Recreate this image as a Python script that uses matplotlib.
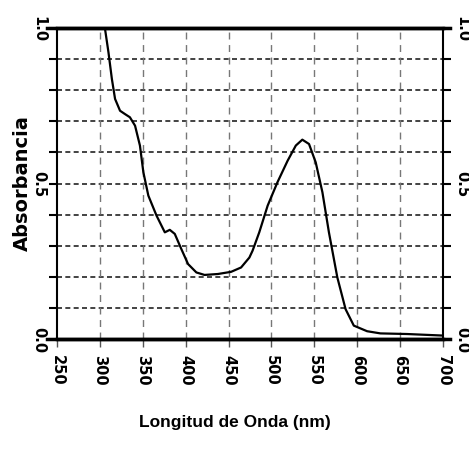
import matplotlib
matplotlib.use("Agg")
import matplotlib.pyplot as plt

# Espectro
longitud = [306, 310, 314, 317.7, 323.5, 329.4, 335, 341, 346.7, 350.7,
            356.5, 366, 375.7, 381.5, 387.3, 395, 402.8, 412.5, 422, 437.6,
            453, 464.6, 474.3, 478, 485.8, 495.6, 507, 518.8, 528.4, 536,
            543.8, 551.6, 559.4, 567, 576.8, 586.4, 596, 611.5, 627, 658, 700]
absorbancia = [0.997, 0.922, 0.836, 0.772, 0.734, 0.723, 0.713, 0.686, 0.622,
               0.536, 0.461, 0.397, 0.343, 0.351, 0.338, 0.289, 0.241, 0.214,
               0.206, 0.209, 0.216, 0.230, 0.262, 0.284, 0.343, 0.429, 0.504,
               0.573, 0.622, 0.641, 0.627, 0.568, 0.472, 0.343, 0.198, 0.096,
               0.043, 0.025, 0.018, 0.016, 0.011]

xticks = [250, 300, 350, 400, 450, 500, 550, 600, 650, 700]
yticks = [0.0, 0.1, 0.2, 0.3, 0.4, 0.5, 0.6, 0.7, 0.8, 0.9, 1.0]
ylabels = ["0.0", "", "", "", "", "0.5", "", "", "", "", "1.0"]

fig = plt.figure(figsize=(4.69, 4.52), dpi=100)
ax = fig.add_axes([0.1215, 0.2478, 0.9446 - 0.1215, 0.9358 - 0.2478])

ax.plot(longitud, absorbancia, "-k", lw=1.6, solid_joinstyle="round",
        solid_capstyle="round", zorder=3)

ax.set_xlim(252, 700)
ax.set_ylim(0, 1.0)
ax.set_xticks(xticks)
ax.set_yticks(yticks)
ax.set_yticklabels(ylabels)

# rejilla: horizontal negra a trazos cortos, vertical gris a trazos largos
for y in yticks[1:-1]:
    ax.axhline(y, color="#222222", lw=1.2, ls=(0, (3, 2)), zorder=1)
for x in xticks[1:-1]:
    ax.axvline(x, color="#777777", lw=1.0, ls=(0, (5, 4)), zorder=1)

for s in ["left", "right"]:
    ax.spines[s].set_linewidth(1.5)
for s in ["top", "bottom"]:
    ax.spines[s].set_linewidth(2.5)
# prolongacion de los ejes horizontales
for yy in (0, 1):
    ax.plot([-0.026, 1.018], [yy, yy], color="k", lw=2.5,
            transform=ax.transAxes, clip_on=False)

fuente = {"family": "DejaVu Sans", "weight": "bold", "size": 10.5}
ax.tick_params(axis="x", direction="out", length=6, width=1.0,
               color="#555555", pad=5)
ax.tick_params(axis="y", direction="out", length=6, width=1.5,
               left=True, right=True, labelleft=True, labelright=True, pad=2)
for lab in ax.get_xticklabels():
    lab.set_fontproperties(fuente)
    lab.set_rotation(270)
for t in ax.yaxis.get_major_ticks():
    for lab in (t.label1, t.label2):
        lab.set_fontproperties(fuente)
        lab.set_rotation(270)
        lab.set_va("center")

ax.set_ylabel("Absorbancia", fontsize=14, fontweight="bold",
              family="DejaVu Sans", va="center")
ax.yaxis.set_label_coords(-0.09, 0.505)
ax.set_xlabel("Longitud de Onda (nm)", fontsize=12.5, fontweight="bold",
              family="Liberation Sans", va="top")
ax.xaxis.set_label_coords(0.461, -0.24)

fig.savefig("out.png", dpi=100)
